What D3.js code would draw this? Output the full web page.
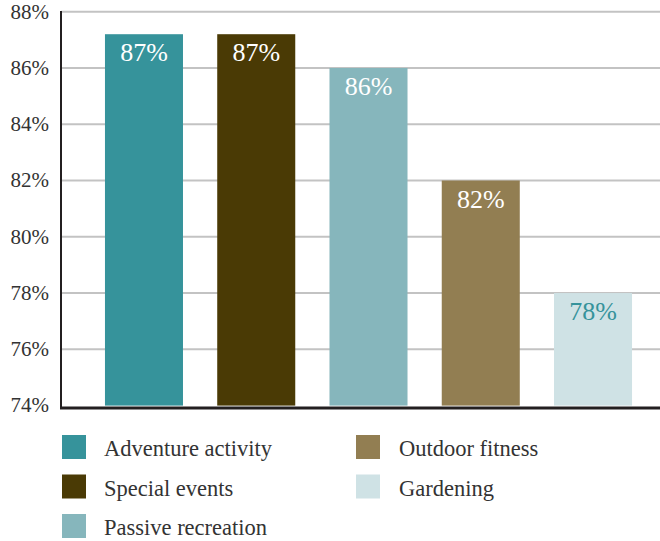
<!DOCTYPE html>
<html>
<head>
<meta charset="utf-8">
<script src="https://cdn.jsdelivr.net/npm/d3@7"></script>
<style>
  body { margin: 0; background: #fff; }
  #chart text { font-family: 'Liberation Serif', 'Times New Roman', serif; }
</style>
</head>
<body>
<svg id="chart" width="660" height="541"></svg>
<script>
const categories = ['Adventure activity', 'Special events', 'Passive recreation', 'Outdoor fitness', 'Gardening']
const values = [87.2, 87.2, 86, 82, 78]
const colors = ['#36939b', '#4a3a05', '#86b6bc', '#927e52', '#cfe2e5']
const labelColors = ['#ffffff', '#ffffff', '#ffffff', '#ffffff', '#36939b']
const yTicks = [74, 76, 78, 80, 82, 84, 86, 88]

const width = 660

const svg = d3.select('#chart')

// Scales
const x = d3.scaleBand()
  .domain(categories)
  .range([76, 661])
  .paddingInner(0.305)
  .paddingOuter(0.258)

const y = d3.scaleLinear()
  .domain([74, 88])
  .range([405.6, 11.7])

// Gridlines
svg.append('g')
  .selectAll('line')
  .data(yTicks.slice(1))
  .enter().append('line')
    .attr('x1', 61)
    .attr('x2', width)
    .attr('y1', d => y(d))
    .attr('y2', d => y(d))
    .attr('stroke', '#c3c3c3')
    .attr('stroke-width', 2)

// Y axis labels
const yAxis = d3.axisLeft(y).tickValues(yTicks).tickFormat(d => d + '%').tickSize(0)
svg.append('g')
  .attr('transform', 'translate(49,0)')
  .call(g => {
    g.call(yAxis)
    g.attr('font-family', 'Liberation Serif')
    g.select('.domain').remove()
    g.selectAll('.tick text')
      .attr('x', 0)
      .attr('dy', '0.3em')
      .attr('fill', '#333')
      .style('font-size', '21px')
  })

// Bars
svg.append('g')
  .selectAll('rect')
  .data(values)
  .enter().append('rect')
    .attr('x', (d, i) => x(categories[i]))
    .attr('y', d => y(d))
    .attr('width', x.bandwidth())
    .attr('height', d => y(74) - y(d))
    .attr('fill', (d, i) => colors[i])

// Value labels
svg.append('g')
  .selectAll('text')
  .data(values)
  .enter().append('text')
    .attr('x', (d, i) => x(categories[i]) + x.bandwidth() / 2)
    .attr('y', d => y(d) + 27)
    .attr('text-anchor', 'middle')
    .attr('fill', (d, i) => labelColors[i])
    .style('font-size', '26px')
    .text(d => Math.round(d) + '%')

// Axis lines
svg.append('line')
  .attr('x1', 61).attr('x2', 61)
  .attr('y1', 11).attr('y2', 409)
  .attr('stroke', '#231f20')
  .attr('stroke-width', 2)

svg.append('line')
  .attr('x1', 60).attr('x2', width)
  .attr('y1', 408).attr('y2', 408)
  .attr('stroke', '#231f20')
  .attr('stroke-width', 3)

// Legend
const legend = svg.append('g')
  .selectAll('g')
  .data(categories)
  .enter().append('g')
    .attr('transform', (d, i) => {
      const col = i < 3 ? 0 : 1
      const row = i < 3 ? i : i - 3
      return 'translate(' + (col ? 356 : 62) + ',' + (435 + row * 39.5) + ')'
    })

legend.append('rect')
  .attr('width', 24)
  .attr('height', 24)
  .attr('fill', (d, i) => colors[i])

legend.append('text')
  .attr('x', (d, i) => i < 3 ? 42 : 43)
  .attr('y', 21)
  .attr('fill', '#333')
  .style('font-size', '22.5px')
  .text(d => d)
</script>
</body>
</html>
